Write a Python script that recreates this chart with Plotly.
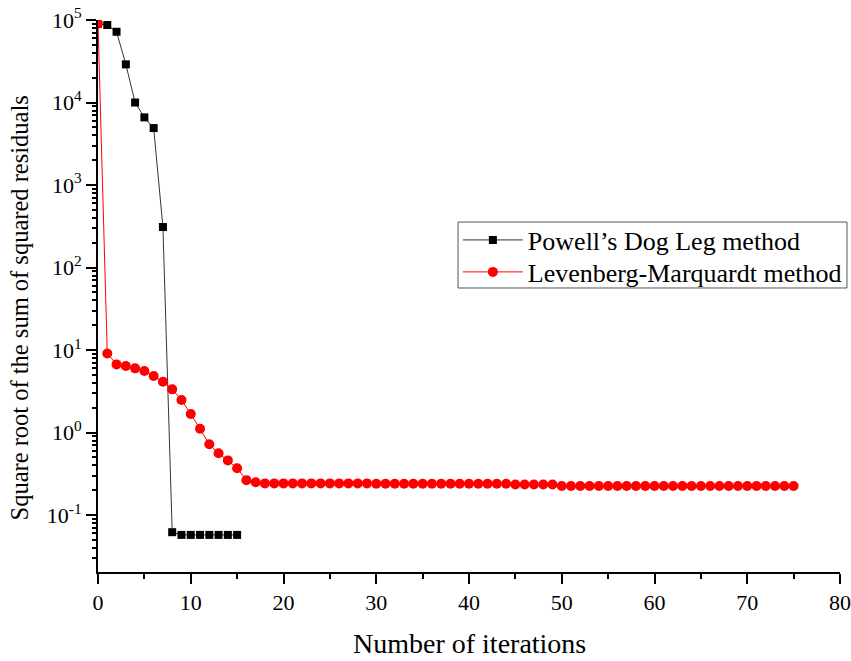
import plotly.graph_objects as go

# Iteration counts
dogleg_iter = list(range(0, 16))
lm_iter = list(range(0, 76))

# Square root of the sum of squared residuals, Powell's Dog Leg
dogleg_res = [9.0e4, 8.7e4, 7.2e4, 2.9e4, 1.0e4, 6.6e3, 4.9e3, 310,
              0.062, 0.0575, 0.0575, 0.0575, 0.0575, 0.0575, 0.0575, 0.0575]

# Square root of the sum of squared residuals, Levenberg-Marquardt
lm_res = ([9.0e4, 9.1, 6.7, 6.4, 6.0, 5.56, 4.84, 4.13, 3.34, 2.48, 1.68,
           1.11, 0.72, 0.56, 0.46, 0.37, 0.265, 0.25]
          + [0.242] * 12      # 18-29
          + [0.240] * 15      # 30-44
          + [0.235] * 5       # 45-49
          + [0.225] * 26)     # 50-75

x_ticks = [0, 10, 20, 30, 40, 50, 60, 70, 80]
y_tick_vals = [1e-1, 1e0, 1e1, 1e2, 1e3, 1e4, 1e5]
y_tick_text = ["10<sup>-1</sup>", "10<sup>0</sup>", "10<sup>1</sup>", "10<sup>2</sup>",
               "10<sup>3</sup>", "10<sup>4</sup>", "10<sup>5</sup>"]

y_minor = [m * 10 ** e for e in range(-2, 5) for m in range(2, 10)]
y_minor = [v for v in y_minor if v >= 0.021]

FONT = "Liberation Serif"
Y_RANGE = [-1.69, 5.0]

fig = go.Figure()
fig.add_trace(go.Scatter(
    x=dogleg_iter, y=dogleg_res, mode="lines+markers",
    name="Powell\u2019s Dog Leg method", legend="legend",
    line=dict(color="#333333", width=1),
    marker=dict(symbol="square", size=8, color="black"),
))
fig.add_trace(go.Scatter(
    x=lm_iter, y=lm_res, mode="lines+markers",
    name="Levenberg-Marquardt method", legend="legend2",
    line=dict(color="red", width=1),
    marker=dict(symbol="circle", size=10, color="red"),
))
# invisible trace that carries the minor-tick log axis
fig.add_trace(go.Scatter(
    x=[0], y=[1], yaxis="y2", mode="markers", marker=dict(opacity=0),
    showlegend=False, hoverinfo="skip",
))

legend_common = dict(
    xanchor="left", yanchor="middle", x=0.485,
    bgcolor="rgba(0,0,0,0)", borderwidth=0,
    font=dict(family=FONT, size=26, color="black"),
    itemwidth=60,
)

fig.update_layout(
    width=851, height=661,
    margin=dict(l=98, r=11, t=20, b=89, autoexpand=False),
    paper_bgcolor="white", plot_bgcolor="white",
    font=dict(family=FONT, color="black", size=22),
    showlegend=True,
    legend=dict(y=0.6014, **legend_common),
    legend2=dict(y=0.5435, **legend_common),
    xaxis=dict(
        range=[0, 80], tickmode="array", tickvals=x_ticks,
        showline=True, linecolor="black", linewidth=2,
        ticks="outside", ticklen=10, tickwidth=2, tickcolor="black",
        showgrid=False, zeroline=False, automargin=False,
        tickfont=dict(family=FONT, size=22),
        minor=dict(dtick=5, tick0=0, ticks="outside", ticklen=5,
                   tickwidth=2, tickcolor="black", showgrid=False),
    ),
    yaxis=dict(
        type="log", range=Y_RANGE,
        tickmode="array", tickvals=y_tick_vals, ticktext=y_tick_text,
        showline=True, linecolor="black", linewidth=2,
        ticks="outside", ticklen=10, tickwidth=2, tickcolor="black",
        showgrid=False, zeroline=False, automargin=False,
        tickfont=dict(family=FONT, size=22),
    ),
    yaxis2=dict(
        type="log", range=Y_RANGE, overlaying="y", anchor="x", side="left",
        tickmode="array", tickvals=y_minor, showticklabels=False,
        ticks="outside", ticklen=5, tickwidth=1.5, tickcolor="black",
        showline=False, showgrid=False, zeroline=False, automargin=False,
    ),
    shapes=[
        # frame around the two legend entries
        dict(type="rect", xref="paper", yref="paper",
             x0=0.4852, x1=1.0094, y0=0.5145, y1=0.634,
             line=dict(color="#555555", width=1), fillcolor="rgba(0,0,0,0)",
             layer="above"),
    ],
    annotations=[
        dict(text="Number of iterations", xref="paper", yref="paper",
             x=0.5, y=-0.129, xanchor="center", yanchor="middle",
             showarrow=False, font=dict(family=FONT, size=28, color="black")),
        dict(text="Square root of the sum of squared residuals",
             xref="paper", yref="paper", x=-0.106, y=0.478,
             xanchor="center", yanchor="middle", textangle=-90,
             showarrow=False, font=dict(family=FONT, size=24.5, color="black")),
    ],
)

fig.write_html("out.html")
